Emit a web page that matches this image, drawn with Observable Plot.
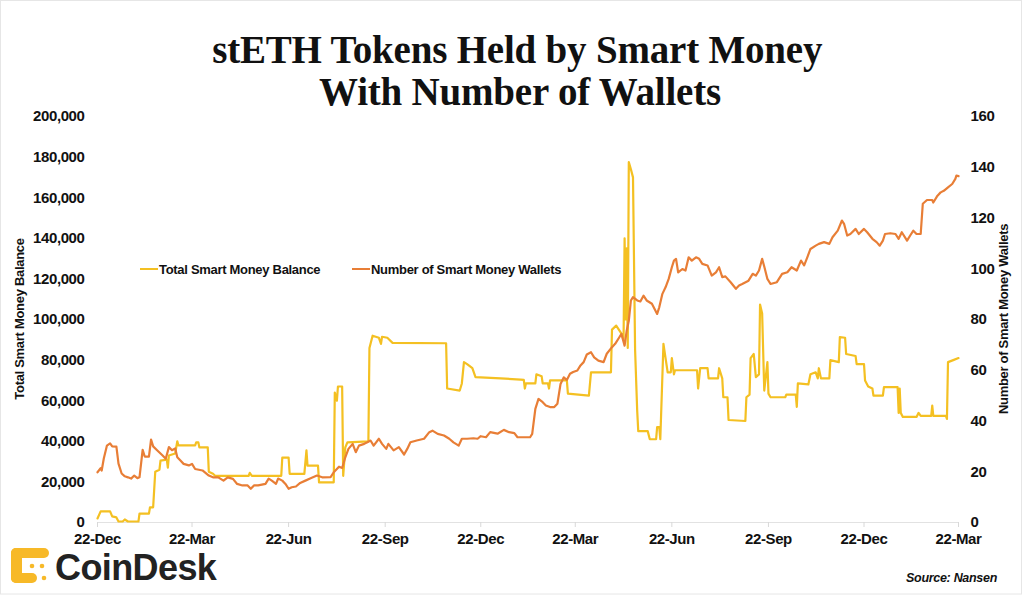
<!DOCTYPE html>
<html><head><meta charset="utf-8">
<script src="https://cdn.jsdelivr.net/npm/d3@7"></script>
<script src="https://cdn.jsdelivr.net/npm/@observablehq/plot@0.6"></script>
<style>
body{margin:0;background:#fff;}
#wrap{position:relative;width:1024px;height:596px;overflow:hidden;font-family:"Liberation Sans",Arial,sans-serif;}
#chart{position:absolute;left:0;top:0;}
#overlay{position:absolute;left:0;top:0;pointer-events:none;}
#chart svg text{letter-spacing:-0.4px;}
</style></head><body>
<div id="wrap">
<div id="chart"></div>
<svg id="overlay" width="1024" height="596" xmlns="http://www.w3.org/2000/svg">
  <rect x="0.5" y="0.5" width="1021" height="593.5" fill="none" stroke="#e6e6e6"/>
  <text x="522" font-family="Liberation Serif, serif" font-weight="bold" font-size="39" text-anchor="middle" fill="#111" letter-spacing="-0.2">
    <tspan x="522" y="63">stETH Tokens Held by Smart Money</tspan>
    <tspan x="520" y="105">With Number of Wallets</tspan>
  </text>
  <g font-family="Liberation Sans, Arial, sans-serif" font-weight="bold" font-size="13" fill="#111" letter-spacing="-0.3">
    <text transform="translate(24,319) rotate(-90)" text-anchor="middle">Total Smart Money Balance</text>
    <text transform="translate(1008,319) rotate(-90)" text-anchor="middle">Number of Smart Money Wallets</text>
    <line x1="140" x2="158" y1="269" y2="269" stroke="#F4C022" stroke-width="2"/>
    <text x="159" y="273.5">Total Smart Money Balance</text>
    <line x1="352" x2="370" y1="269" y2="269" stroke="#E87E36" stroke-width="2"/>
    <text x="371" y="273.5">Number of Smart Money Wallets</text>
  </g>
  <g fill="#F7B928">
    <rect x="11" y="548" width="38" height="10" rx="5"/>
    <rect x="11" y="548" width="11" height="35" rx="5"/>
    <rect x="11" y="573" width="26" height="10" rx="5"/>
    <circle cx="32" cy="566" r="2.3"/>
    <circle cx="42" cy="566" r="2.3"/>
    <circle cx="44" cy="578" r="2.3"/>
  </g>
  <text x="55" y="580" font-family="Liberation Sans, Arial, sans-serif" font-weight="bold" font-size="36" letter-spacing="-0.6" fill="#222">CoinDesk</text>
  <text x="997" y="582" text-anchor="end" font-family="Liberation Sans, Arial, sans-serif" font-weight="bold" font-style="italic" font-size="12.5" letter-spacing="-0.3" fill="#111">Source: Nansen</text>
</svg>
</div>
<script>
// Total Smart Money Balance (stETH), primary axis
const balance = [
["2020-12-22",2000],["2020-12-25",5500],["2021-01-03",5500],["2021-01-05",3000],["2021-01-09",2500],
["2021-01-11",500],["2021-01-15",500],["2021-01-17",1500],["2021-01-20",500],["2021-01-30",500],
["2021-01-31",4400],["2021-02-09",4400],["2021-02-10",7500],["2021-02-13",7500],["2021-02-15",25000],
["2021-02-19",26000],["2021-02-20",30500],["2021-02-26",31000],["2021-02-27",27000],["2021-02-28",33000],
["2021-03-06",34000],["2021-03-08",40000],["2021-03-09",38000],["2021-03-25",38000],["2021-03-26",39500],
["2021-03-28",39500],["2021-03-29",37000],["2021-04-06",37000],["2021-04-07",25000],["2021-04-11",24000],
["2021-04-13",23000],["2021-05-15",23000],["2021-05-16",24500],["2021-05-18",23000],["2021-06-15",23000],
["2021-06-16",32000],["2021-06-22",32000],["2021-06-23",24000],["2021-07-07",24000],["2021-07-09",35500],
["2021-07-10",28000],["2021-07-20",28000],["2021-07-21",19800],["2021-08-04",19800],["2021-08-05",64000],
["2021-08-07",60000],["2021-08-08",67000],["2021-08-12",67000],["2021-08-13",23000],["2021-08-15",37000],
["2021-08-17",39500],["2021-09-06",40000],["2021-09-07",86000],["2021-09-10",92000],["2021-09-16",91000],
["2021-09-18",88000],["2021-09-19",91500],["2021-09-24",91000],["2021-09-29",88500],["2021-11-19",88300],
["2021-11-20",66000],["2021-12-02",65000],["2021-12-04",68500],["2021-12-06",79000],["2021-12-09",78000],
["2021-12-14",76000],["2021-12-17",71600],["2022-01-10",71000],["2022-01-29",70400],["2022-02-01",70300],
["2022-02-02",66000],["2022-02-03",68500],["2022-02-12",68500],["2022-02-13",73000],["2022-02-18",72000],
["2022-02-19",68500],["2022-02-24",68500],["2022-02-25",66000],["2022-02-26",70000],["2022-03-14",70000],
["2022-03-15",63500],["2022-04-04",62500],["2022-04-06",74000],["2022-04-25",74000],["2022-04-26",95000],
["2022-04-30",97000],["2022-05-05",93000],["2022-05-07",90000],["2022-05-08",140000],["2022-05-09",100000],
["2022-05-10",135000],["2022-05-11",86000],["2022-05-12",177500],["2022-05-14",174000],["2022-05-16",170000],
["2022-05-18",85000],["2022-05-20",55000],["2022-05-21",45000],["2022-05-30",45000],["2022-06-01",41000],
["2022-06-07",41000],["2022-06-08",47000],["2022-06-10",47000],["2022-06-11",41000],["2022-06-14",88000],
["2022-06-16",81000],["2022-06-18",74000],["2022-06-21",74000],["2022-06-22",81000],["2022-06-24",73000],
["2022-06-25",75000],["2022-07-16",75000],["2022-07-17",66000],["2022-07-19",76000],["2022-07-26",76000],
["2022-07-27",71000],["2022-08-05",71000],["2022-08-06",76000],["2022-08-09",71000],["2022-08-10",61700],
["2022-08-14",61700],["2022-08-15",50500],["2022-08-31",50000],["2022-09-01",61700],["2022-09-04",63000],
["2022-09-05",81000],["2022-09-08",83000],["2022-09-10",71600],["2022-09-13",73000],["2022-09-14",107400],
["2022-09-16",103000],["2022-09-18",65000],["2022-09-21",79000],["2022-09-22",63500],["2022-09-24",61700],
["2022-10-08",61700],["2022-10-09",63000],["2022-10-18",63000],["2022-10-19",57000],["2022-10-20",68500],
["2022-10-30",68000],["2022-11-01",73000],["2022-11-06",74000],["2022-11-08",71000],["2022-11-09",76000],
["2022-11-11",71000],["2022-11-19",71000],["2022-11-20",80000],["2022-11-28",79000],["2022-11-29",91300],
["2022-12-04",91000],["2022-12-05",83000],["2022-12-14",82000],["2022-12-15",78000],["2022-12-22",78000],
["2022-12-23",70000],["2022-12-26",67000],["2022-12-30",66000],["2022-12-31",62500],["2023-01-09",62500],
["2023-01-10",66700],["2023-01-23",66700],["2023-01-24",54000],["2023-01-25",66000],["2023-01-26",54000],
["2023-01-28",52000],["2023-02-10",52000],["2023-02-12",54000],["2023-02-14",52500],["2023-02-24",52500],
["2023-02-25",57600],["2023-02-26",52500],["2023-03-10",52500],["2023-03-11",51000],["2023-03-12",79000],
["2023-03-17",80000],["2023-03-22",81000]
];

// Number of Smart Money Wallets, secondary axis
const wallets = [
["2020-12-22",19.8],["2020-12-25",21.4],["2020-12-26",20.5],["2020-12-28",25.2],["2020-12-31",30.3],
["2021-01-03",31.2],["2021-01-05",30],["2021-01-09",29.9],["2021-01-11",23.2],["2021-01-14",19.3],
["2021-01-17",18.2],["2021-01-20",17.8],["2021-01-23",17.3],["2021-01-26",18.5],["2021-01-29",17.5],
["2021-01-31",17.8],["2021-02-03",28.6],["2021-02-05",26],["2021-02-09",26],["2021-02-11",32.7],
["2021-02-13",30],["2021-02-17",28.4],["2021-02-22",26.4],["2021-02-25",25.1],["2021-02-28",29.7],
["2021-03-03",28.5],["2021-03-06",29.2],["2021-03-08",25.7],["2021-03-11",24.4],["2021-03-14",23.1],
["2021-03-19",22.5],["2021-03-22",23.1],["2021-03-25",21.1],["2021-04-01",20.5],["2021-04-07",18.5],
["2021-04-11",17.8],["2021-04-16",17.8],["2021-04-21",16.5],["2021-04-25",17.8],["2021-04-30",17.2],
["2021-05-04",15.2],["2021-05-09",14.6],["2021-05-14",14.6],["2021-05-17",13.3],["2021-05-20",14.6],
["2021-05-24",14.6],["2021-05-31",15.2],["2021-06-03",17.3],["2021-06-06",16.5],["2021-06-10",15.2],
["2021-06-12",17.3],["2021-06-16",16.5],["2021-06-19",15.2],["2021-06-22",13.3],["2021-06-25",13.9],
["2021-06-29",14.2],["2021-07-03",15.6],["2021-07-08",16.5],["2021-07-13",17.4],["2021-07-19",18.5],
["2021-07-24",17.8],["2021-08-01",17.9],["2021-08-04",19.8],["2021-08-09",22],["2021-08-12",21.5],
["2021-08-15",25.7],["2021-08-18",29],["2021-08-22",31],["2021-08-25",27.7],["2021-08-28",30.3],
["2021-09-02",31],["2021-09-05",31.6],["2021-09-08",32.3],["2021-09-11",30.3],["2021-09-16",33],
["2021-09-19",31],["2021-09-23",29],["2021-09-25",31],["2021-09-30",28.4],["2021-10-05",29.7],
["2021-10-10",26.8],["2021-10-13",29],["2021-10-16",31.6],["2021-10-22",32.3],["2021-10-29",33],
["2021-11-03",35.6],["2021-11-06",36.2],["2021-11-11",34.9],["2021-11-17",34.3],["2021-11-22",33],
["2021-11-26",31.6],["2021-12-01",30.3],["2021-12-04",33],["2021-12-09",33],["2021-12-15",33.2],
["2021-12-19",33],["2021-12-22",34],["2021-12-27",33.6],["2021-12-31",35.6],["2022-01-07",35],
["2022-01-13",36.5],["2022-01-18",35.6],["2022-01-23",35.2],["2022-01-26",33.6],["2022-02-01",33.6],
["2022-02-07",33.6],["2022-02-09",34.9],["2022-02-12",44.8],["2022-02-15",48.7],["2022-02-19",47.4],
["2022-02-22",46.1],["2022-02-26",45.5],["2022-03-02",45.5],["2022-03-05",46.8],["2022-03-08",54.6],
["2022-03-11",57.2],["2022-03-14",56.2],["2022-03-17",58.6],["2022-03-20",59.3],["2022-03-24",59.9],
["2022-03-27",61.9],["2022-03-30",63.2],["2022-04-02",66.2],["2022-04-06",67.1],["2022-04-09",65.1],
["2022-04-13",63.8],["2022-04-18",63.2],["2022-04-21",66.5],["2022-04-26",69.1],["2022-04-29",70.4],
["2022-05-03",73],["2022-05-05",74.3],["2022-05-08",69.7],["2022-05-10",75.6],["2022-05-12",79.5],
["2022-05-14",87.5],["2022-05-16",88.8],["2022-05-20",87.5],["2022-05-23",87.1],["2022-05-26",89.4],
["2022-05-29",87.5],["2022-06-03",86.2],["2022-06-08",82.2],["2022-06-10",84.8],["2022-06-13",90.1],
["2022-06-16",92.7],["2022-06-19",96],["2022-06-22",100.6],["2022-06-24",103.2],["2022-06-26",103.9],
["2022-06-28",98.6],["2022-07-02",99.9],["2022-07-05",99.3],["2022-07-08",104.5],["2022-07-11",103.2],
["2022-07-15",104.5],["2022-07-18",103.9],["2022-07-21",101.9],["2022-07-26",101.3],["2022-07-30",97.3],
["2022-08-03",98.6],["2022-08-06",100.6],["2022-08-09",96.7],["2022-08-12",97],["2022-08-17",94.7],
["2022-08-22",92.1],["2022-08-25",93.4],["2022-08-28",94],["2022-09-03",95.3],["2022-09-07",98],
["2022-09-10",97.3],["2022-09-13",99.3],["2022-09-16",103.9],["2022-09-18",100.9],["2022-09-21",96],
["2022-09-24",94],["2022-09-30",94.7],["2022-10-05",98],["2022-10-10",98.6],["2022-10-14",100.6],
["2022-10-19",99.3],["2022-10-23",103.2],["2022-10-26",101.3],["2022-10-29",104.5],["2022-11-01",107.8],
["2022-11-06",109.1],["2022-11-09",109.8],["2022-11-14",110.5],["2022-11-19",109.8],["2022-11-22",112.4],
["2022-11-27",115],["2022-12-01",119],["2022-12-03",117.7],["2022-12-06",113.1],["2022-12-09",113.7],
["2022-12-14",115.7],["2022-12-17",113.7],["2022-12-22",115.7],["2022-12-25",114.4],["2022-12-30",111.8],
["2023-01-03",110.5],["2023-01-06",109.1],["2023-01-09",111.1],["2023-01-11",113.7],["2023-01-16",114],
["2023-01-21",113.7],["2023-01-24",111.8],["2023-01-27",114.4],["2023-02-01",111.1],["2023-02-04",113.1],
["2023-02-07",115],["2023-02-10",113.7],["2023-02-14",113.7],["2023-02-16",125.6],["2023-02-20",127.1],
["2023-02-25",127.1],["2023-02-26",126.1],["2023-03-02",128.8],["2023-03-05",130.1],["2023-03-08",130.7],
["2023-03-12",132.1],["2023-03-16",133.4],["2023-03-19",135.4],["2023-03-20",136.7],["2023-03-22",136.5]
];

const xTickDates = ["2020-12-22","2021-03-22","2021-06-22","2021-09-22","2021-12-22",
                    "2022-03-22","2022-06-22","2022-09-22","2022-12-22","2023-03-22"];
const leftTicks = [0,20000,40000,60000,80000,100000,120000,140000,160000,180000,200000];
const rightTicks = [0,20,40,60,80,100,120,140,160];

const leftMax = 200000, rightMax = 160;
const k = leftMax / rightMax;
const yellow = "#F4C022", orange = "#E87E36";
const parse = s => new Date(s + "T00:00:00Z");

const chart = Plot.plot({
  width: 1024, height: 596,
  marginTop: 116, marginBottom: 74, marginLeft: 97, marginRight: 66,
  style: {fontFamily: "Liberation Sans, Arial, sans-serif", fontSize: "15px", fontWeight: "bold", color: "#111", background: "transparent"},
  x: {type: "utc", domain: [parse(xTickDates[0]), parse(xTickDates[xTickDates.length - 1])]},
  y: {domain: [0, leftMax]},
  marks: [
    Plot.ruleY([0], {stroke: "#e2e2e2"}),
    Plot.axisX({ticks: xTickDates.map(parse), tickFormat: d3.utcFormat("%d-%b"), tickSize: 5, tickPadding: 6, stroke: "#d8d8d8", fill: "#111", label: null}),
    Plot.axisY({anchor: "left", ticks: leftTicks, tickSize: 0, tickPadding: 13, tickFormat: d3.format(","), label: null}),
    Plot.axisY({anchor: "right", ticks: rightTicks.map(v => v * k), tickSize: 0, tickPadding: 12, tickFormat: d => String(Math.round(d / k)), label: null}),
    Plot.line(balance, {x: d => parse(d[0]), y: d => d[1], stroke: yellow, strokeWidth: 2.2}),
    Plot.line(wallets, {x: d => parse(d[0]), y: d => d[1] * k, stroke: orange, strokeWidth: 2.2})
  ]
});
document.getElementById("chart").appendChild(chart);
</script>
</body></html>
